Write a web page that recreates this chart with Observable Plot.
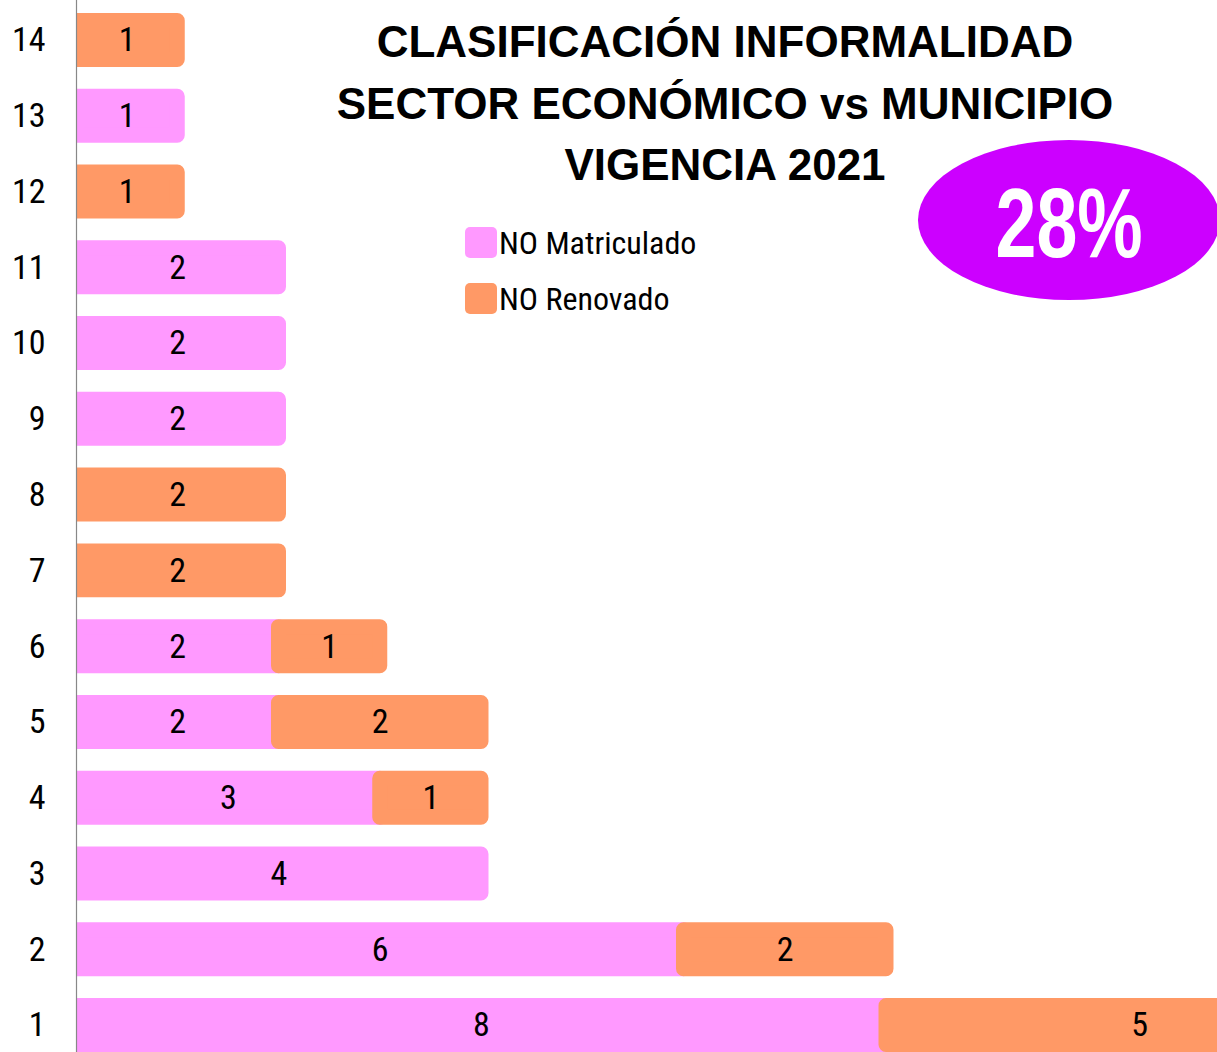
<!DOCTYPE html>
<html><head><meta charset="utf-8">
<script src="https://cdn.jsdelivr.net/npm/d3@7"></script>
<script src="https://cdn.jsdelivr.net/npm/@observablehq/plot@0.6"></script>
<style>
body{margin:0;background:#fff;}
#wrap{position:relative;width:1217px;height:1052px;overflow:hidden;font-family:"Liberation Sans",Arial,sans-serif;}
#title{position:absolute;left:225px;top:11px;width:1000px;text-align:center;font-weight:bold;font-size:44px;line-height:61.5px;color:#000;}
#badge{position:absolute;left:918px;top:140px;width:302px;height:160px;border-radius:50%;background:#CC00FF;color:#fff;font-weight:bold;font-size:98px;display:flex;align-items:center;justify-content:center;}
#badge span{display:inline-block;transform:scaleX(0.75);position:relative;top:3px;}
#legend{position:absolute;left:465px;top:227px;font-family:"Roboto Condensed","Liberation Sans",sans-serif;}
.li{display:flex;align-items:center;height:31px;margin-bottom:25px;font-size:32px;color:#000;}
.sw{width:32px;height:31px;border-radius:5px;margin-right:2px;}
</style></head>
<body>
<div id="wrap"><div id="chart"></div>
<div id="title">CLASIFICACIÓN INFORMALIDAD<br>SECTOR ECONÓMICO vs MUNICIPIO<br>VIGENCIA 2021</div>
<div id="badge"><span>28%</span></div>
<div id="legend"></div>
</div>
<script>
const categories = [1,2,3,4,5,6,7,8,9,10,11,12,13,14];
const seriesNames = ["NO Matriculado","NO Renovado"];
const seriesColors = ["#FF99FF","#FF9966"];
const noMatriculado = [8,6,4,3,2,2,0,0,2,2,2,0,1,0];
const noRenovado    = [5,2,0,1,2,1,2,2,0,0,0,1,0,1];

const rows=[];
[noMatriculado,noRenovado].forEach((arr,si)=>arr.forEach((v,i)=>{if(v>0)rows.push({cat:String(categories[i]),series:seriesNames[si],value:v});}));

const FONT='"Roboto Condensed","Liberation Sans",sans-serif';
const nCat=categories.length, bandStep=75.77, bandTop=2.1;
const chart=Plot.plot({
  width:1217,height:1052,marginLeft:76,marginRight:0,marginTop:0,marginBottom:0,
  style:{fontFamily:FONT,background:"#fff",color:"#000"},
  x:{domain:[0,1141/101.25],axis:null},
  y:{domain:categories.slice().reverse().map(String),range:[bandTop,bandTop+nCat*bandStep],padding:0,round:false,axis:null},
  color:{domain:seriesNames,range:seriesColors},
  marks:[
    Plot.barX(rows,Plot.stackX({x:"value",y:"cat",fill:"series",stroke:"series",z:"series",order:null,strokeWidth:15,strokeLinejoin:"round",insetTop:18.4,insetBottom:18.4,clip:true})),
    Plot.text(rows,Plot.stackX({x:"value",y:"cat",z:"series",order:null,text:d=>String(d.value),fontSize:34,fill:"#000"})),
    Plot.ruleX([0],{stroke:"#888",strokeWidth:1.2}),
    Plot.axisY({tickSize:0,tickPadding:31,fontSize:34,label:null,textAnchor:"end"})
  ]
});
document.getElementById('chart').appendChild(chart);
const lg=document.getElementById('legend');
seriesNames.forEach((s,i)=>{const d=document.createElement('div');d.className='li';d.innerHTML='<div class="sw" style="background:'+seriesColors[i]+'"></div><span>'+s+'</span>';lg.appendChild(d);});
</script>
</body></html>
